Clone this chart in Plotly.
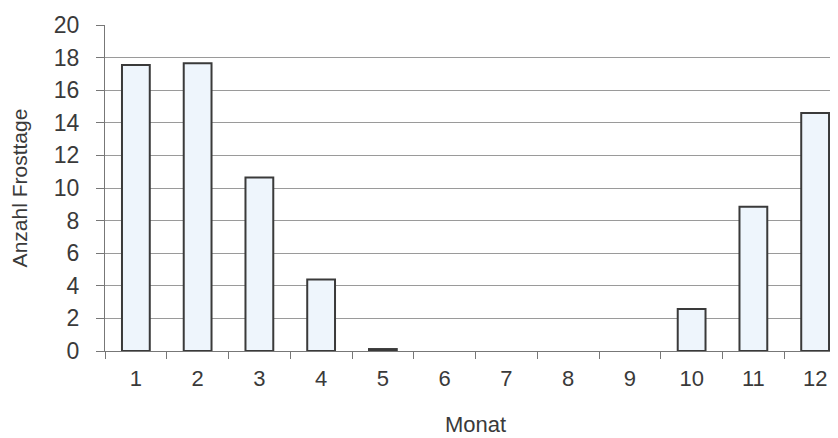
import plotly.graph_objects as go

months = ["1", "2", "3", "4", "5", "6", "7", "8", "9", "10", "11", "12"]
frosttage = [17.55, 17.65, 10.65, 4.38, 0.12, 0, 0, 0, 0, 2.58, 8.85, 14.6]
y_ticks = [0, 2, 4, 6, 8, 10, 12, 14, 16, 18, 20]

line_widths = [2 if v > 0 else 0 for v in frosttage]

fig = go.Figure(go.Bar(
    x=months, y=frosttage,
    marker=dict(color="#eef5fc", line=dict(color="#3a3a3a", width=line_widths)),
))

fig.update_layout(
    width=838, height=438,
    margin=dict(l=97, r=0, t=17, b=95),
    plot_bgcolor="white", paper_bgcolor="white",
    bargap=0.55,
    showlegend=False,
    font=dict(family="Liberation Sans, Arial, sans-serif", color="#333333"),
)
fig.update_xaxes(
    type="category", tickson="boundaries",
    ticks="outside", ticklen=7, tickcolor="#777777", tickwidth=1,
    ticklabelstandoff=8,
    showline=True, linecolor="#777777", linewidth=1,
    showgrid=False,
    tickfont=dict(size=22, color="#3a3a3a"),
    title=dict(text="Monat", font=dict(size=22, color="#3a3a3a"), standoff=26),
)
fig.update_yaxes(
    range=[0, 20], tickvals=y_ticks,
    ticks="outside", ticklen=8, tickcolor="#777777", tickwidth=1,
    ticklabelstandoff=12,
    showline=True, linecolor="#777777", linewidth=1,
    showgrid=True, gridcolor="#9a9a9a", gridwidth=1,
    zeroline=False,
    tickfont=dict(size=23, color="#3a3a3a"),
    title=dict(text="Anzahl Frosttage", font=dict(size=21, color="#3a3a3a"), standoff=22),
)

fig.write_html("out.html")
